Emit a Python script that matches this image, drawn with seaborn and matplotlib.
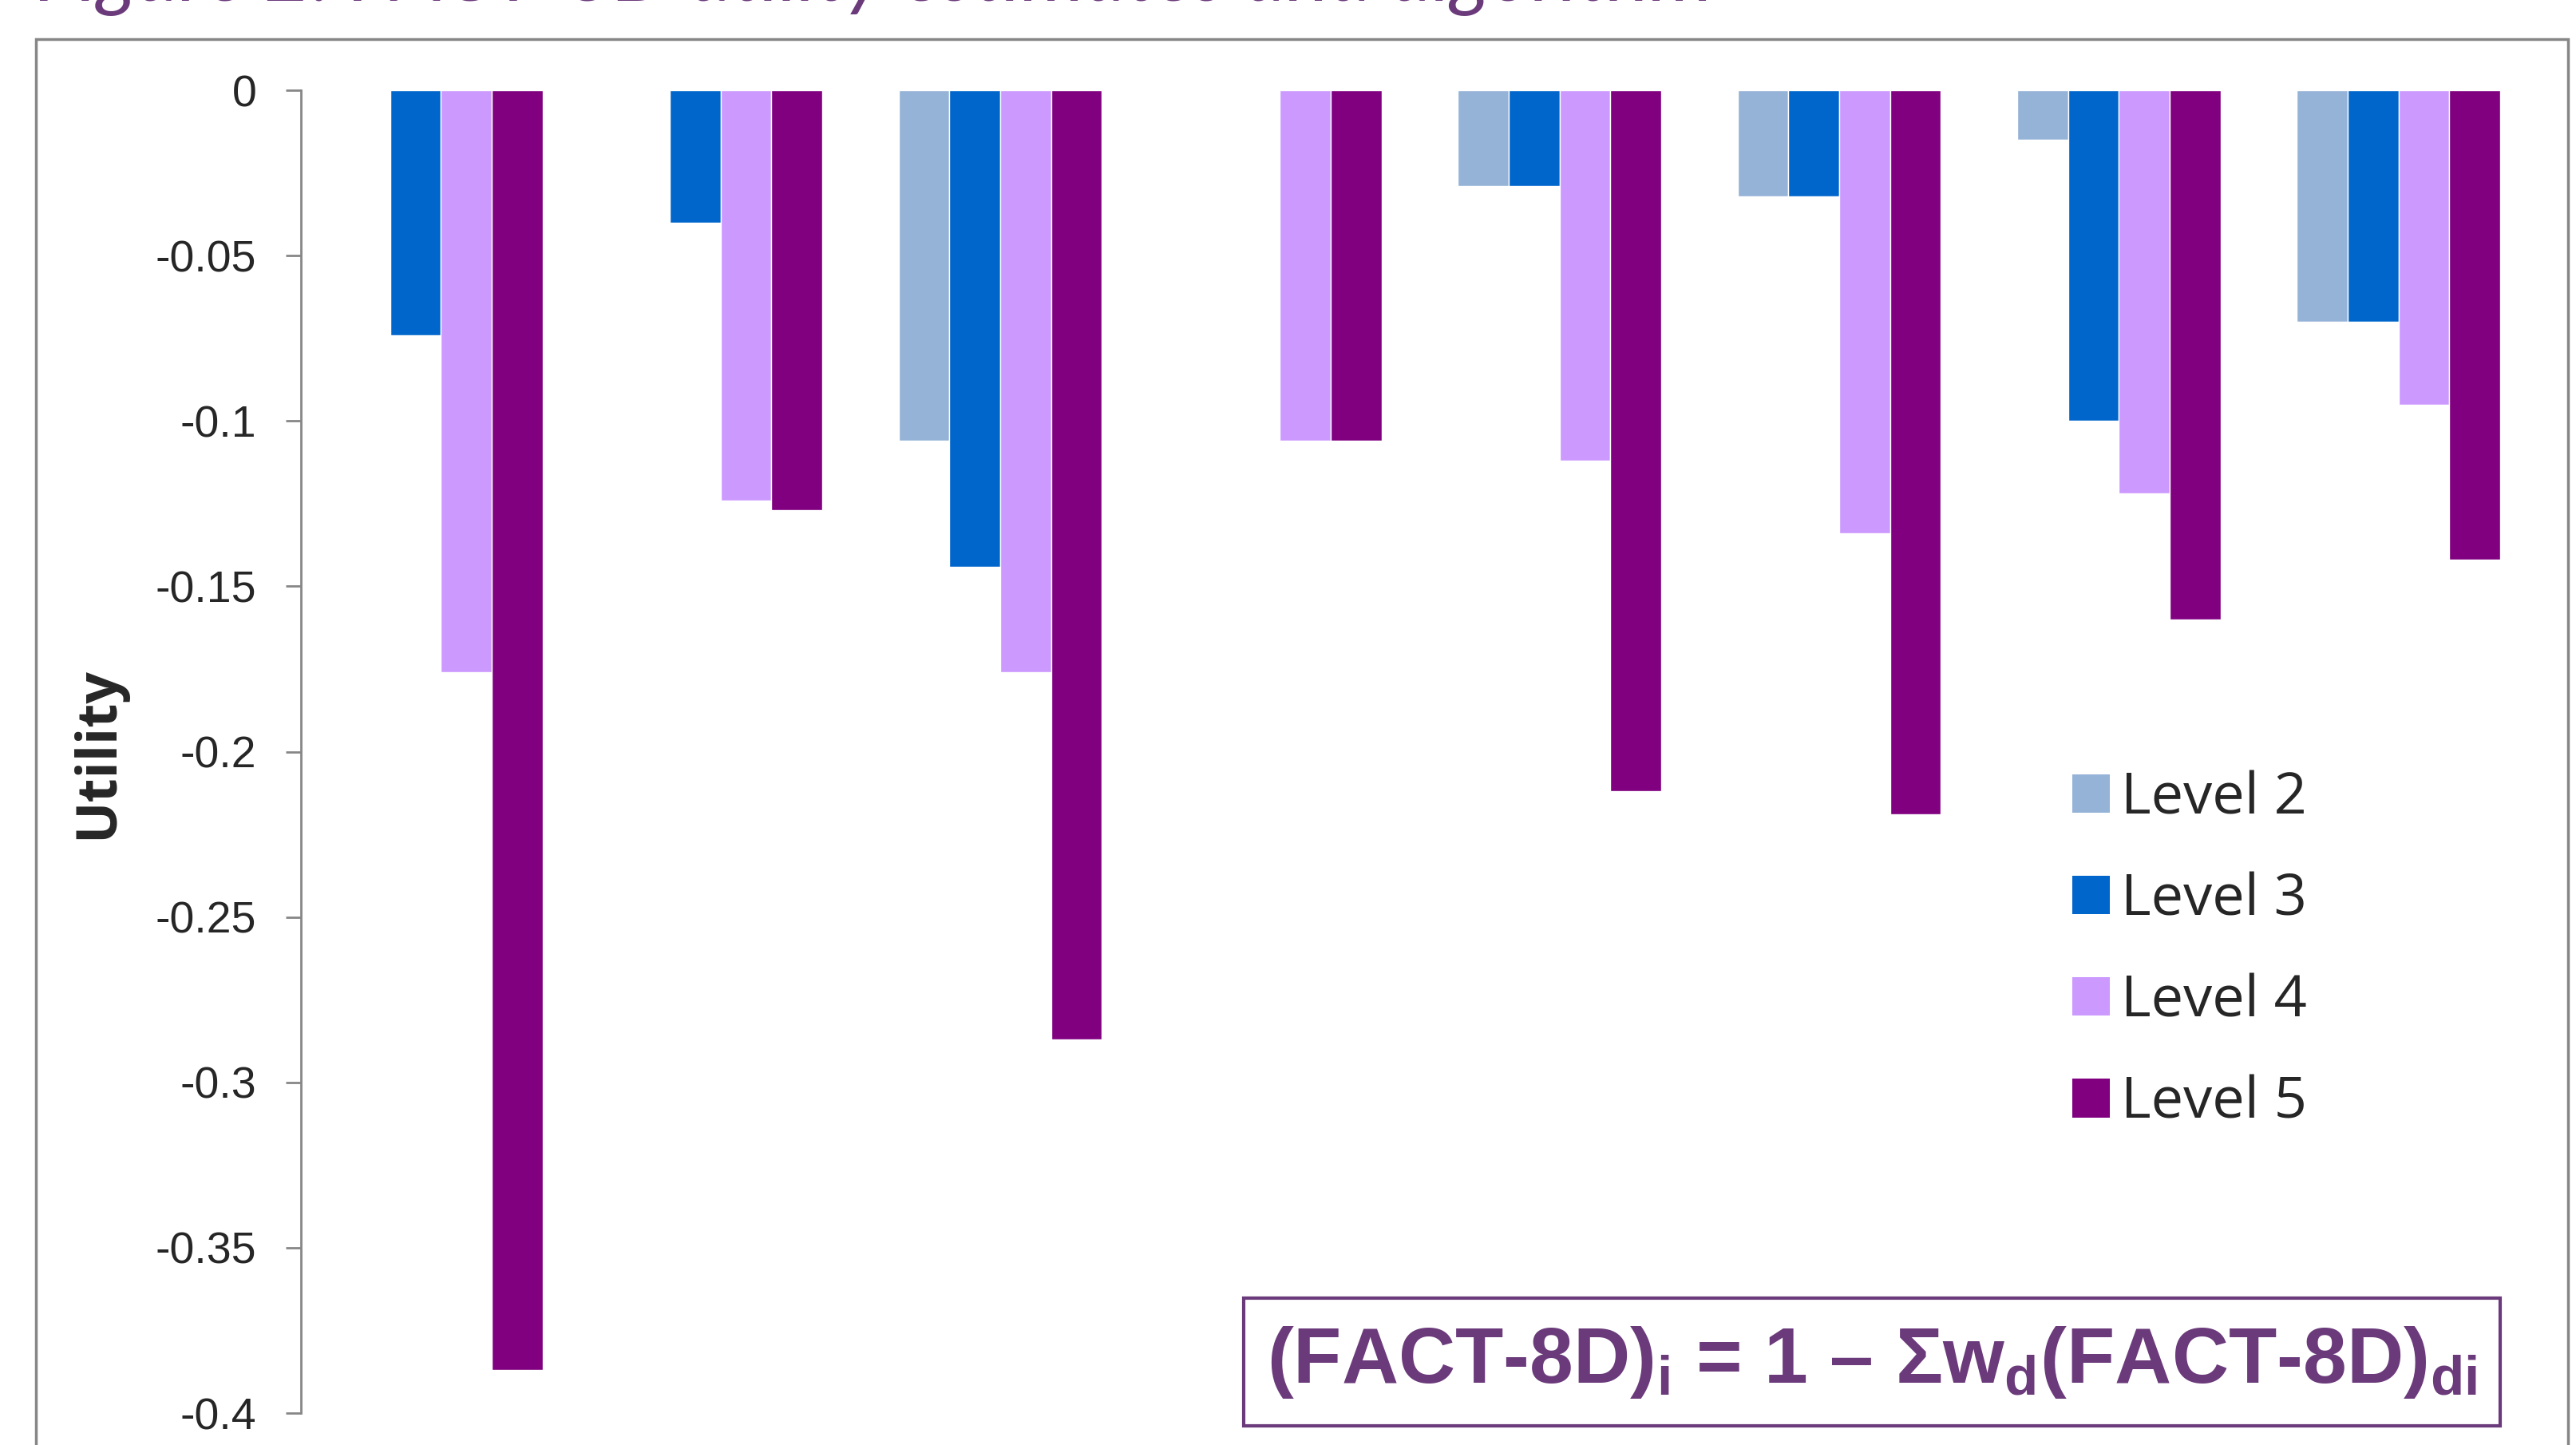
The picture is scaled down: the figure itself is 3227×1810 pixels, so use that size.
import numpy as np
import pandas as pd
import seaborn as sns
import matplotlib.pyplot as plt
from matplotlib.patches import Patch, Rectangle

# FACT-8D utility decrements per dimension and level
domains = ["Pain", "Fatigue", "Nausea", "Sleep", "Work", "Support", "Sad", "Worry"]
levels = ["Level 2", "Level 3", "Level 4", "Level 5"]
level2 = [0.0, 0.0, -0.106, 0.0, -0.029, -0.032, -0.015, -0.070]
level3 = [-0.074, -0.040, -0.144, 0.0, -0.029, -0.032, -0.100, -0.070]
level4 = [-0.176, -0.124, -0.176, -0.106, -0.112, -0.134, -0.122, -0.095]
level5 = [-0.387, -0.127, -0.287, -0.106, -0.212, -0.219, -0.160, -0.142]
colors = ["#95B3D7", "#0066CC", "#CC99FF", "#800080"]
yticks = [0, -0.05, -0.1, -0.15, -0.2, -0.25, -0.3, -0.35, -0.4]
ytick_labels = ["0", "-0.05", "-0.1", "-0.15", "-0.2", "-0.25", "-0.3", "-0.35", "-0.4"]

rows = []
for lev, vals in zip(levels, [level2, level3, level4, level5]):
    for d, v in zip(domains, vals):
        rows.append({"domain": d, "level": lev, "utility": v})
df = pd.DataFrame(rows)

sns.set_style("white")
plt.rcParams['font.family'] = ['Liberation Sans', 'DejaVu Sans']
plt.rcParams['mathtext.fontset'] = 'custom'
plt.rcParams['mathtext.bf'] = 'Liberation Sans:bold'
plt.rcParams['mathtext.rm'] = 'Liberation Sans:bold'
plt.rcParams['mathtext.default'] = 'bf'

W, H = 3227, 1810
fig = plt.figure(figsize=(W / 100, H / 100), dpi=100)
fig.patch.set_facecolor("white")

# chart-area frame (runs off the bottom of the picture)
fig.patches.append(Rectangle((45 / W, -0.05), (3217 - 45) / W, 1 - 49 / H + 0.05,
                             transform=fig.transFigure, fill=False,
                             edgecolor="#868686", linewidth=2.5))

ax = fig.add_axes([377 / W, 1 - 1770 / H, (3180 - 377) / W, (1770 - 113) / H])
sns.barplot(data=df, x="domain", y="utility", hue="level", palette=colors,
            width=0.727, saturation=1, errorbar=None, legend=False, ax=ax)
ax.set_xlim(-0.5, 7.5)
ax.set_ylim(-0.4, 0)
ax.set_yticks(yticks)
ax.set_yticklabels(ytick_labels)
ax.set_xlabel("")
ax.set_ylabel("")
ax.tick_params(axis="x", bottom=False, labelbottom=False)
ax.tick_params(axis="y", left=True, length=14, width=2, color="#868686",
               pad=26, labelsize=40)
for s in ["top", "right", "bottom"]:
    ax.spines[s].set_visible(False)
ax.spines["left"].set_color("#868686")
ax.spines["left"].set_linewidth(2)
ax.patch.set_alpha(0)

fig.text(123 / W, 1 - 943 / H, "Utility", rotation=90, ha="center", va="center",
         fontsize=50, fontweight="bold", family=["Open Sans", "DejaVu Sans"])

handles = [Patch(facecolor=c, edgecolor="none", label=l) for c, l in zip(colors, levels)]
fig.legend(handles=handles, loc="upper left", bbox_to_anchor=(2531 / W, 1 - 900 / H),
           frameon=False, handlelength=0.65, handleheight=0.65, handletextpad=0.2,
           labelspacing=0.77, prop={"family": "Open Sans", "size": 52})

# formula box
purple = "#6B3A7B"
fig.patches.append(Rectangle((1558 / W, 1 - 1786 / H), (3132 - 1558) / W, (1786 - 1626) / H,
                             transform=fig.transFigure, fill=False,
                             edgecolor=purple, linewidth=3))
fig.text(2345 / W, 1 - 1706 / H,
         "(FACT-8D)$_{i}$ = 1 \u2013 \u03a3w$_{d}$(FACT-8D)$_{di}$",
         ha="center", va="center", fontsize=71, fontweight="bold", color=purple)

# title, cut off by the top edge
fig.text(45 / W, 1 - 1 / H, "Figure 2. FACT-8D utility estimates and algorithm",
         ha="left", va="baseline", fontsize=73, style="italic", color=purple,
         family=["Lato", "DejaVu Sans"])

fig.savefig("out.png", dpi=100)
